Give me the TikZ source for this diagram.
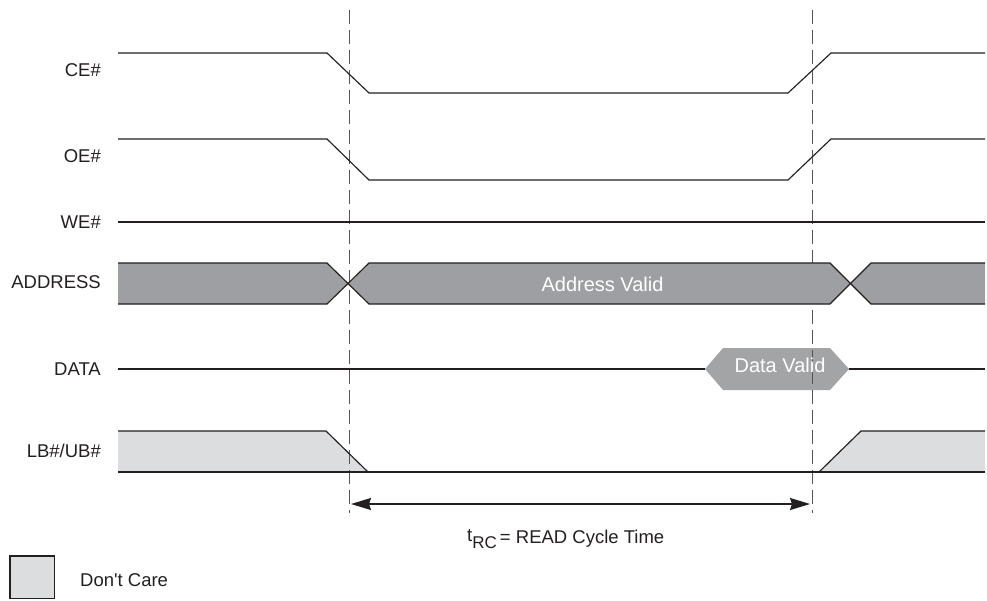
\documentclass[tikz,border=0pt]{standalone}
\usepackage{fontspec}
\setmainfont{Liberation Sans}
\usetikzlibrary{arrows.meta}
\definecolor{ink}{RGB}{35,31,32}
\definecolor{busgray}{RGB}{158,159,163}
\definecolor{dvgray}{RGB}{163,164,166}
\definecolor{dcgray}{RGB}{220,221,223}
\definecolor{dashgray}{RGB}{85,85,85}
\tikzset{
  sig/.style={draw=ink, line width=1.15pt, line join=miter},
  lbl/.style={anchor=base east, inner sep=0pt, text=ink, font=\fontsize{18.5}{20}\selectfont},
  intext/.style={anchor=base, inner sep=0pt, text=white, font=\fontsize{20}{22}\selectfont},
  guide/.style={draw=dashgray, line width=0.9pt, dash pattern=on 14pt off 6pt},
  dim/.style={draw=ink, line width=1.6pt, {Stealth[length=20pt,width=12pt,inset=2pt]}-{Stealth[length=20pt,width=12pt,inset=2pt]}}
}
\begin{document}
\begin{tikzpicture}[x=1pt,y=-1pt]
\useasboundingbox (0,0) rectangle (987,600);

% labels
\node[lbl] (lce) at (101,76) {CE\#};
\node[lbl] (loe) at (101,162.5) {OE\#};
\node[lbl] (lwe) at (101,228.5) {WE\#};
\node[lbl] (lad) at (101,288) {ADDRESS};
\node[lbl] (lda) at (101,375.5) {DATA};
\node[lbl] (llb) at (101,457) {LB\#/UB\#};

% fills drawn under the guides
\fill[dvgray] (705,369) -- (723,348) -- (830,348) -- (849,369) -- (830,390) -- (723,390) -- cycle;
\fill[dcgray] (118,431) -- (326,431) -- (368,472) -- (118,472) -- cycle;
\fill[dcgray] (819,472) -- (861,431) -- (985,431) -- (985,472) -- cycle;

% guides
\coordinate (g1t) at (349,10);
\coordinate (g1b) at (349,513);
\coordinate (g2t) at (812,10);
\coordinate (g2b) at (812,513);
\draw[guide] (g1t) -- (g1b);
\draw[guide] (g2t) -- (g2b);

% CE#
\draw[sig] (118,53) -- (327,53) -- (369,93) -- (788,93) -- (831,53) -- (985,53);
% OE#
\draw[sig] (118,139) -- (327,139) -- (369,180) -- (788,180) -- (831,139) -- (985,139);
% WE#
\draw[sig] (118,222) -- (985,222);

% ADDRESS
\fill[busgray] (118,263) -- (327,263) -- (348,284) -- (327,304) -- (118,304) -- cycle;
\fill[busgray] (348,284) -- (369,263) -- (830,263) -- (850,284) -- (830,304) -- (369,304) -- cycle;
\fill[busgray] (850,284) -- (871,263) -- (985,263) -- (985,304) -- (871,304) -- cycle;
\draw[sig] (118,263) -- (327,263) -- (369,304) -- (830,304) -- (871,263) -- (985,263);
\draw[sig] (118,304) -- (327,304) -- (369,263) -- (830,263) -- (871,304) -- (985,304);
\node[intext] (av) at (602.5,291) {Address Valid};

% DATA
\draw[sig] (118,369) -- (705,369);
\draw[sig] (849,369) -- (985,369);
\node[intext] (dv) at (780,372) {Data Valid};

% LB#/UB#
\draw[sig] (118,431) -- (326,431) -- (368,472);
\draw[sig] (819,472) -- (861,431) -- (985,431);
\draw[sig] (118,472) -- (985,472);

% tRC arrow
\coordinate (a1) at (351,504);
\coordinate (a2) at (810,504);
\draw[dim] (a1) -- (a2);
\node[anchor=base west, inner sep=0pt, text=ink, font=\fontsize{18.5}{20}\selectfont] (trc) at (467,543)
  {\raisebox{2pt}{t}\raisebox{-5pt}{\fontsize{17}{18}\selectfont RC}\,= READ Cycle Time};

% legend
\draw[draw=ink, line width=1.5pt, fill=dcgray] (10,556) rectangle (54.5,598.5);
\node[anchor=base west, inner sep=0pt, text=ink, font=\fontsize{18.5}{20}\selectfont] (dc) at (80,586.5) {Don\textquotesingle t Care};
\end{tikzpicture}
\end{document}
